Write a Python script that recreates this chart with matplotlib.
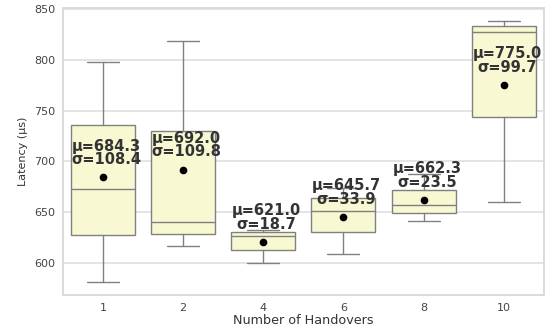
import matplotlib
matplotlib.use("Agg")
import matplotlib.pyplot as plt
import seaborn as sns

handovers = ["1", "2", "4", "6", "8", "10"]
means = [684.3, 692.0, 621.0, 645.7, 662.3, 775.0]
stds = [108.4, 109.8, 18.7, 33.9, 23.5, 99.7]
q1 = [627.4, 629.0, 613.4, 630.4, 649.4, 743.8]
medians = [673.0, 640.9, 626.8, 651.7, 657.3, 826.8]
q3 = [735.6, 729.7, 631.3, 663.8, 672.3, 833.0]
whis_lo = [581.7, 617.0, 600.0, 608.8, 641.8, 660.2]
whis_hi = [798.0, 818.4, 633.0, 674.0, 688.0, 837.9]

sns.set_style("whitegrid", {"grid.color": "#e2e2e2", "axes.edgecolor": "#d8d8d8"})
plt.rcParams['font.family'] = ['DejaVu Sans']

fig = plt.figure(figsize=(5.51, 3.29), dpi=100)
ax = fig.add_axes([0.114, 0.103, 0.873, 0.873])

stats = []
for i in range(len(handovers)):
    stats.append(dict(label=handovers[i], mean=means[i], med=medians[i],
                      q1=q1[i], q3=q3[i], whislo=whis_lo[i], whishi=whis_hi[i],
                      fliers=[]))

grey = '#808080'
ax.bxp(stats, positions=range(len(handovers)), widths=0.8, patch_artist=True,
       showmeans=True, showfliers=False,
       boxprops=dict(facecolor='#f8f8d2', edgecolor=grey, linewidth=1),
       medianprops=dict(color=grey, linewidth=1),
       whiskerprops=dict(color=grey, linewidth=1),
       capprops=dict(color=grey, linewidth=1),
       meanprops=dict(marker='o', markerfacecolor='black', markeredgecolor='black',
                      markersize=4.5))
ax.set_xlim(-0.5, len(handovers) - 0.5)
ax.autoscale(axis='y')

for i, (m, s) in enumerate(zip(means, stds)):
    ax.text(i + 0.04, m + 10, f"μ={m:.1f}\nσ={s:.1f}", ha='center', va='bottom',
            fontsize=10.5, fontweight='bold', color='#333333', linespacing=0.9)

ax.set_xlabel("Number of Handovers", fontsize=9.2, color='#333333', labelpad=1)
ax.set_ylabel("Latency (μs)", fontsize=8, color='#333333')
ax.tick_params(labelsize=8, colors='#444444', pad=2)
ax.grid(axis='y', linewidth=1.3)
ax.grid(axis='x', visible=False)
for sp in ax.spines.values():
    sp.set_linewidth(1.3)

fig.savefig("out.png", dpi=100)
